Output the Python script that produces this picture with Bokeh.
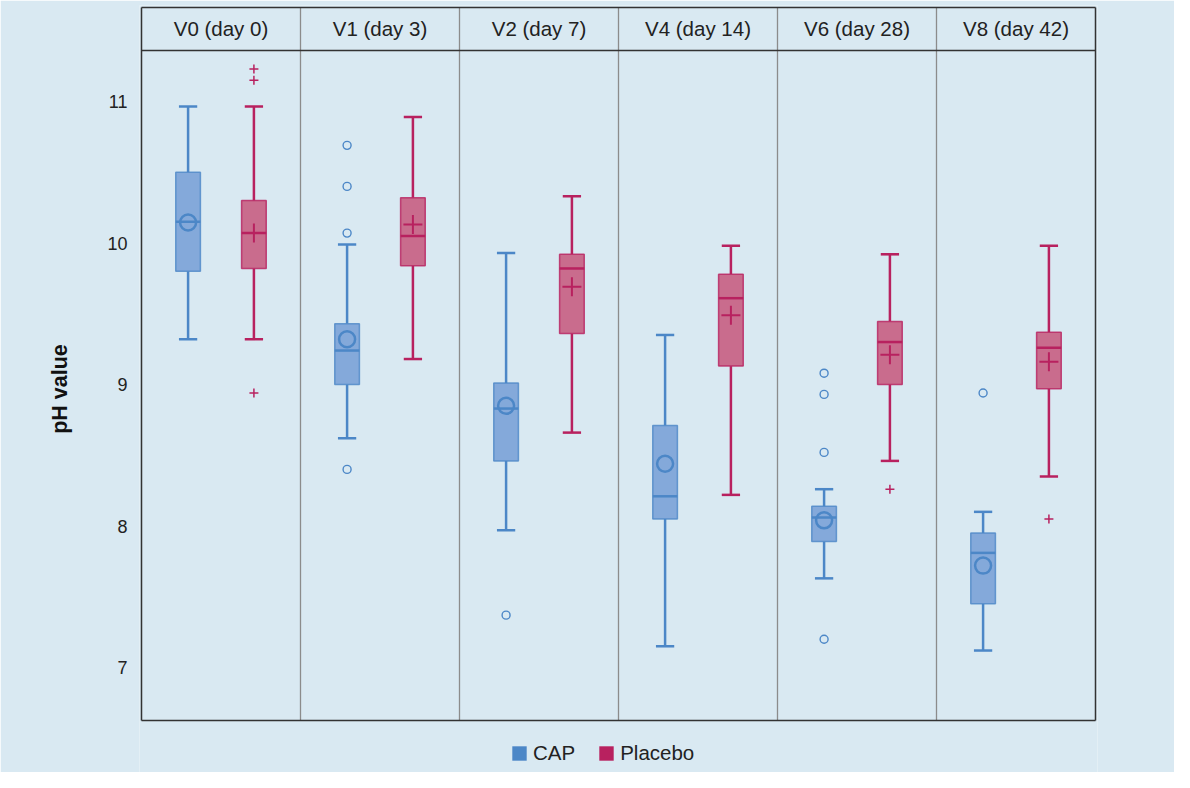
from bokeh.plotting import figure
from bokeh.models import Range1d, FixedTicker, Legend, LegendItem
from bokeh.core.properties import value
from bokeh.embed import file_html
from bokeh.resources import INLINE

# ---- data ----
visits = ["V0 (day 0)", "V1 (day 3)", "V2 (day 7)", "V4 (day 14)", "V6 (day 28)", "V8 (day 42)"]

cap_lower  = [9.32, 8.62, 7.97, 7.15, 7.63, 7.12]
cap_q1     = [9.80, 9.00, 8.46, 8.05, 7.89, 7.45]
cap_median = [10.15, 9.24, 8.83, 8.21, 8.06, 7.81]
cap_q3     = [10.50, 9.43, 9.01, 8.71, 8.14, 7.95]
cap_upper  = [10.965, 9.99, 9.93, 9.35, 8.26, 8.10]
cap_mean   = [10.145, 9.32, 8.85, 8.44, 8.04, 7.72]
cap_outliers = [[], [10.69, 10.40, 10.07, 8.40], [7.37], [], [9.08, 8.93, 8.52, 7.20], [8.94]]

pla_lower  = [9.32, 9.18, 8.66, 8.22, 8.46, 8.35]
pla_q1     = [9.82, 9.84, 9.36, 9.13, 9.00, 8.97]
pla_median = [10.07, 10.05, 9.82, 9.61, 9.30, 9.26]
pla_q3     = [10.30, 10.32, 9.92, 9.78, 9.445, 9.37]
pla_upper  = [10.965, 10.89, 10.33, 9.98, 9.92, 9.98]
pla_mean   = [10.07, 10.13, 9.69, 9.49, 9.21, 9.16]
pla_outliers = [[11.23, 11.15, 8.94], [], [], [], [8.26], [8.05]]

y_ticks = [7, 8, 9, 10, 11]

# ---- style ----
BG = "#d9e9f2"
CAP_LINE = "#4c87c7"
CAP_FILL = "#7fa5d8"
PLA_LINE = "#b8215f"
PLA_FILL = "#c86587"
FONT = "Liberation Sans"
OFFSET = 0.207
BOX_W = 0.155
CAP_W = 0.115
# panel box (data units) and small padding so the box lines are not clipped
BOX_BOTTOM, BOX_TOP = 6.626, 11.664
HEADER_LINE = 11.36
HEADER_TEXT = 11.516
PX_X = 1.0 / 159.0      # x units per pixel
PX_Y = 1.0 / 141.5      # y units per pixel

n = len(visits)
p = figure(width=1174, height=772,
           x_range=Range1d(-2 * PX_X, n + 2 * PX_X),
           y_range=Range1d(7 - 105 * PX_Y, 11 + 96 * PX_Y),
           output_backend="svg", toolbar_location=None,
           min_border_left=139, min_border_right=77, min_border_top=5, min_border_bottom=0)
p.background_fill_color = BG
p.border_fill_color = BG
p.outline_line_color = None
p.grid.visible = False
p.xaxis.visible = False

ax = p.yaxis[0]
ax.ticker = FixedTicker(ticks=y_ticks)
ax.axis_line_color = None
ax.major_tick_line_color = None
ax.minor_tick_line_color = None
ax.major_tick_out = 0
ax.major_tick_in = 0
ax.major_label_text_font = FONT
ax.major_label_text_font_size = "18px"
ax.major_label_text_color = "#222222"
ax.major_label_standoff = 12
ax.axis_label = "pH value"
ax.axis_label_text_font = FONT
ax.axis_label_text_font_style = "bold"
ax.axis_label_text_font_size = "21.5px"
ax.axis_label_text_color = "#111111"
ax.axis_label_standoff = 32

centers = [i + 0.5 for i in range(n)]

# panel separators
seps = list(range(1, n))
p.segment(x0=seps, x1=seps, y0=[BOX_BOTTOM] * len(seps), y1=[BOX_TOP] * len(seps),
          line_color="#8c8c8c", line_width=1.3)
# outer box + header line
p.segment(x0=[0, 0, 0, n, 0], x1=[n, n, 0, n, n],
          y0=[BOX_BOTTOM, BOX_TOP, BOX_BOTTOM, BOX_BOTTOM, HEADER_LINE],
          y1=[BOX_BOTTOM, BOX_TOP, BOX_TOP, BOX_TOP, HEADER_LINE],
          line_color="#333333", line_width=1.5)
p.text(x=centers, y=[HEADER_TEXT] * n, text=visits, text_font=value(FONT), text_font_size="20.5px",
       text_color="#222222", text_align="center", text_baseline="middle")


def draw_group(xs, lower, q1, med, q3, upper, mean, outliers, line, fill, mean_marker, out_marker):
    # whiskers
    p.segment(x0=xs, x1=xs, y0=q3, y1=upper, line_color=line, line_width=2.5)
    p.segment(x0=xs, x1=xs, y0=lower, y1=q1, line_color=line, line_width=2.5)
    xl = [x - CAP_W / 2 for x in xs]
    xr = [x + CAP_W / 2 for x in xs]
    p.segment(x0=xl, x1=xr, y0=upper, y1=upper, line_color=line, line_width=2.5)
    p.segment(x0=xl, x1=xr, y0=lower, y1=lower, line_color=line, line_width=2.5)
    # boxes
    p.vbar(x=xs, bottom=q1, top=q3, width=BOX_W, fill_color=fill, fill_alpha=0.95,
           line_color=line, line_width=1.5, line_alpha=0.8)
    bl = [x - BOX_W / 2 for x in xs]
    br = [x + BOX_W / 2 for x in xs]
    p.segment(x0=bl, x1=br, y0=med, y1=med, line_color=line, line_width=2.5)
    # means
    if mean_marker == "circle":
        p.scatter(x=xs, y=mean, marker="circle", size=16, fill_alpha=0, line_color=line, line_width=2.5)
    else:
        p.scatter(x=xs, y=mean, marker="cross", size=19, line_color=line, line_width=2)
    # outliers
    ox, oy = [], []
    for x, outs in zip(xs, outliers):
        for v in outs:
            ox.append(x)
            oy.append(v)
    if out_marker == "circle":
        p.scatter(x=ox, y=oy, marker="circle", size=8, fill_alpha=0, line_color=line, line_width=1.4)
    else:
        p.scatter(x=ox, y=oy, marker="cross", size=9, line_color=line, line_width=1.5)


xs_cap = [c - OFFSET for c in centers]
xs_pla = [c + OFFSET for c in centers]
draw_group(xs_cap, cap_lower, cap_q1, cap_median, cap_q3, cap_upper, cap_mean, cap_outliers,
           CAP_LINE, CAP_FILL, "circle", "circle")
draw_group(xs_pla, pla_lower, pla_q1, pla_median, pla_q3, pla_upper, pla_mean, pla_outliers,
           PLA_LINE, PLA_FILL, "cross", "cross")

# legend (proxy renderers with no visible data)
nan = float("nan")
r_cap = p.vbar(x=[nan], top=[nan], bottom=[nan], width=0.1, fill_color=CAP_LINE, line_color=None)
r_pla = p.vbar(x=[nan], top=[nan], bottom=[nan], width=0.1, fill_color=PLA_LINE, line_color=None)
legend = Legend(items=[LegendItem(label="CAP", renderers=[r_cap]), LegendItem(label="Placebo", renderers=[r_pla])],
                orientation="horizontal", location=(367, 3))
legend.background_fill_alpha = 0
legend.border_line_alpha = 0
legend.label_text_font = FONT
legend.label_text_font_size = "20.5px"
legend.label_text_color = "#222222"
legend.glyph_width = 18
legend.glyph_height = 18
legend.label_standoff = 5
legend.spacing = 22
legend.padding = 4
legend.margin = 0
p.add_layout(legend, "center")

open("out.html", "w").write(file_html(p, INLINE))
